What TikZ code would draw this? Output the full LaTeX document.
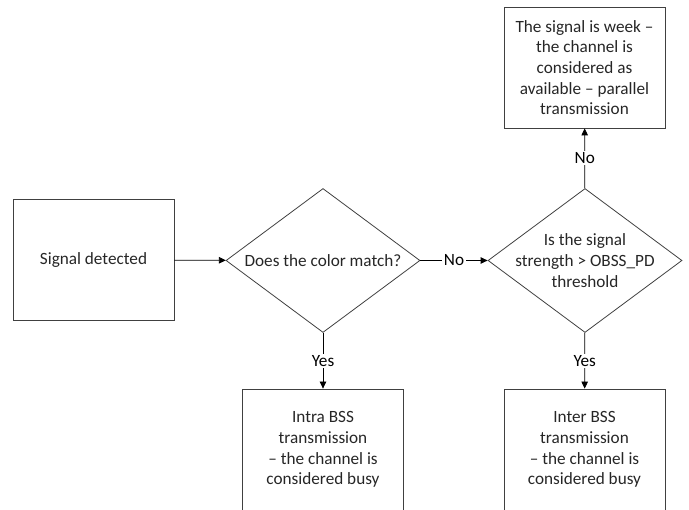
\documentclass[tikz,border=0pt]{standalone}
\usepackage{fontspec}
\setmainfont{Carlito}
\usetikzlibrary{shapes.geometric,arrows.meta,positioning}
\tikzset{
  stepbox/.style={rectangle, draw=black!75, line width=0.8pt, minimum width=161pt, minimum height=121pt, align=center},
  decision/.style={diamond, draw=black!75, line width=0.8pt, minimum width=194pt, minimum height=144pt, inner sep=0pt},
  arrow/.style={-{Triangle[length=7pt,width=6.5pt]}, line width=0.8pt, black},
  answer/.style={midway, fill=white, inner sep=1.5pt}
}

\begin{document}
\begin{tikzpicture}[x=1pt, y=-1pt, font=\fontsize{17.2}{20.7}\selectfont, text=black!85]
\useasboundingbox (0,0) rectangle (689,510);

% Start
\node[stepbox] (detect) at (93.5,260) {Signal detected};

% Decisions
\node[decision, label={[align=center]center:Does the color match?}] (color) at (323,260.5) {};
\node[decision, label={[align=center]center:Is the signal\\strength > OBSS\_PD\\threshold}] (strength) at (585,260.5) {};

% Outcomes
\node[stepbox] (avail) at (584.5,67.5) {The signal is week --\\the channel is\\considered as\\available -- parallel\\transmission};
\node[stepbox] (intra) at (323,449.5) {Intra BSS\\transmission\\-- the channel is\\considered busy};
\node[stepbox] (inter) at (584.5,449.5) {Inter BSS\\transmission\\-- the channel is\\considered busy};

% Arrows
\draw[arrow] (detect) -- (color);
\draw[arrow] (color) -- (strength) node[answer] {No};
\draw[arrow] (color) -- (intra) node[answer] {Yes};
\draw[arrow] (strength) -- (avail) node[answer] {No};
\draw[arrow] (strength) -- (inter) node[answer] {Yes};
\end{tikzpicture}
\end{document}
